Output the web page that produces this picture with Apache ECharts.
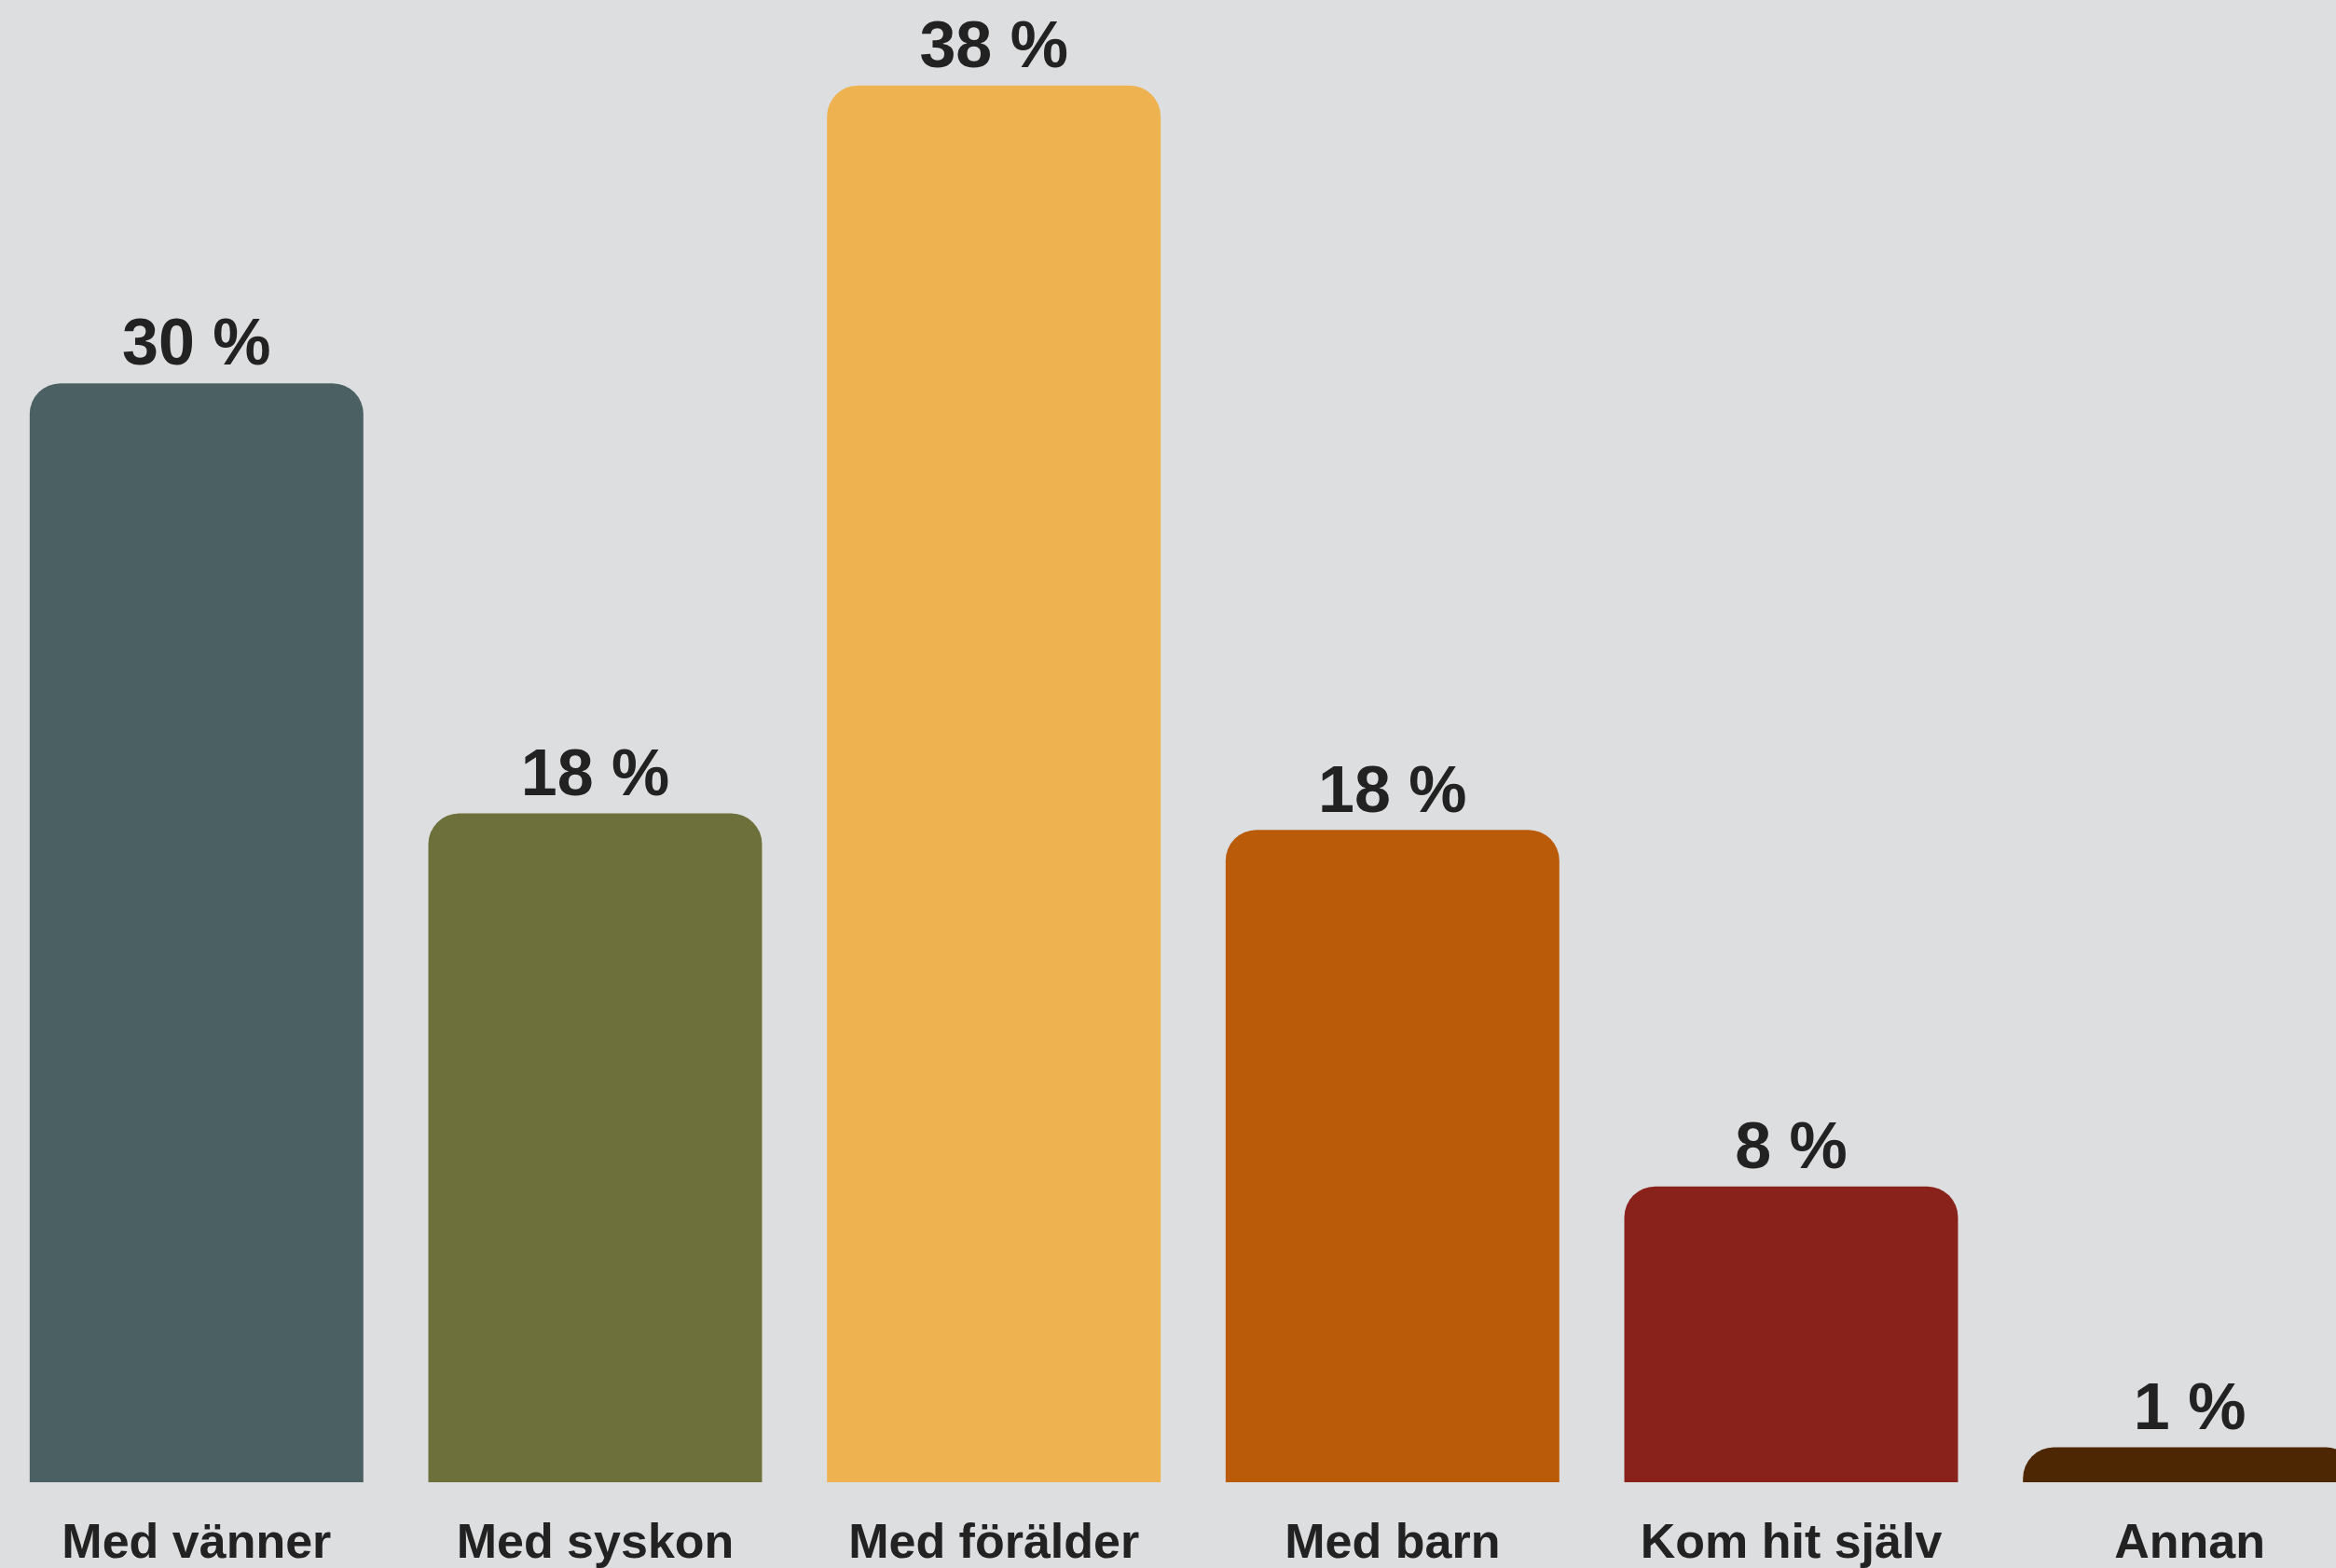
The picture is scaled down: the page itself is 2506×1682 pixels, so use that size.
<!DOCTYPE html>
<html>
<head>
<meta charset="utf-8">
<script src="https://cdn.jsdelivr.net/npm/echarts@6/dist/echarts.min.js"></script>
<style>
html,body{margin:0;padding:0;background:#dddee0;overflow:hidden;}
#c{width:2506px;height:1682px;}
</style>
</head>
<body>
<div id="c"></div>
<script>
const categories = ['Med vänner', 'Med syskon', 'Med förälder', 'Med barn', 'Kom hit själv', 'Annan'];
const values = [29.9, 18.2, 38.0, 17.75, 8.05, 0.95];
const colors = ['#4a6062', '#6d703b', '#efb250', '#ba5b09', '#89221b', '#4d2604'];

const chart = echarts.init(document.getElementById('c'), null, {renderer: 'canvas'});
const font = '"Liberation Sans", Arial, Helvetica, sans-serif';
chart.setOption({
  backgroundColor: '#dddee0',
  animation: false,
  grid: {left: -3, right: -57, top: 13, bottom: 92, containLabel: false, outerBoundsMode: 'none'},
  xAxis: {
    type: 'category',
    data: categories,
    axisLine: {show: false},
    axisTick: {show: false},
    axisLabel: {
      interval: 0,
      margin: 41,
      color: '#222222',
      fontSize: 52,
      fontWeight: 'bold',
      fontFamily: font
    }
  },
  yAxis: {
    type: 'value',
    min: 0,
    max: 40,
    show: false,
    splitLine: {show: false}
  },
  series: [{
    type: 'bar',
    data: values.map((v, i) => ({value: v, itemStyle: {color: colors[i]}})),
    barCategoryGap: '16.3%',
    itemStyle: {borderRadius: [33, 33, 0, 0]},
    label: {
      show: true,
      position: 'top',
      distance: 4,
      color: '#222222',
      fontSize: 70,
      fontWeight: 'bold',
      fontFamily: font,
      formatter: p => Math.round(p.value) + ' %'
    }
  }]
});
</script>
</body>
</html>
